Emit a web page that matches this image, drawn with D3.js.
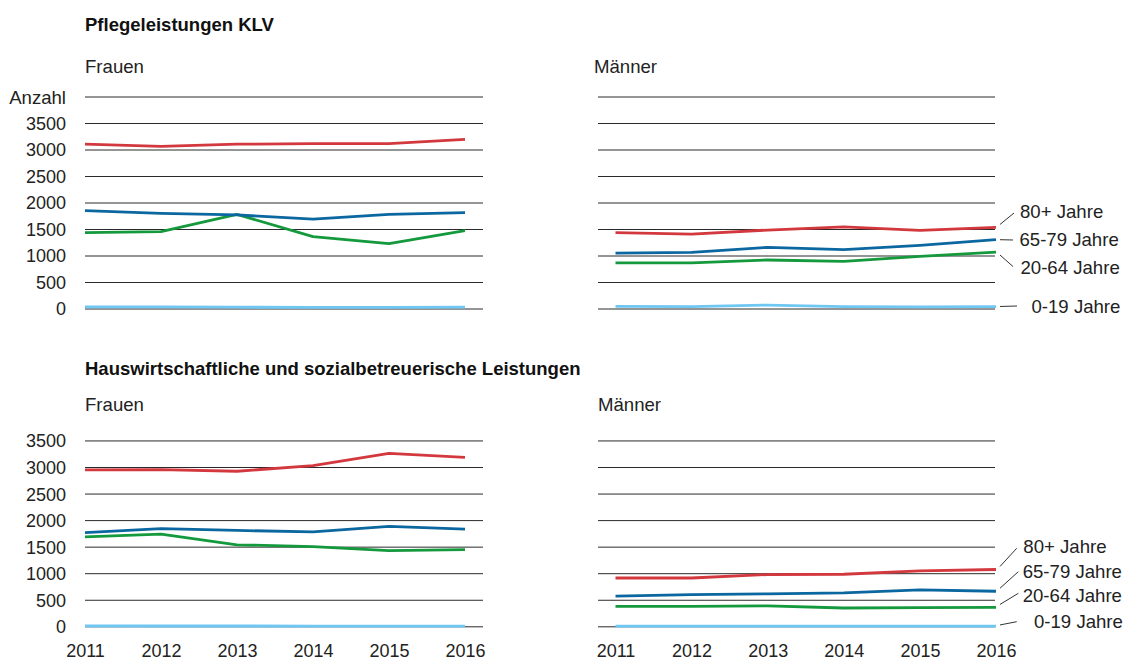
<!DOCTYPE html>
<html>
<head>
<meta charset="utf-8">
<script src="https://cdn.jsdelivr.net/npm/d3@7"></script>
<style>
  html, body { margin: 0; padding: 0; background: #fff; }
  svg { display: block; font-family: "Liberation Sans", Arial, Helvetica, sans-serif; }
  text { fill: #222; }
</style>
</head>
<body>
<svg id="chart" width="1125" height="662"></svg>
<script>
// ---------- data ----------
const years = [2011, 2012, 2013, 2014, 2015, 2016];
const seriesNames = ["80+ Jahre", "65-79 Jahre", "20-64 Jahre", "0-19 Jahre"];
const seriesColors = ["#d3383e", "#0b67a0", "#14993d", "#6fc7f3"];
const yTicksTop = [0, 500, 1000, 1500, 2000, 2500, 3000, 3500, 4000];
const yTicksBottom = [0, 500, 1000, 1500, 2000, 2500, 3000, 3500];
const yAxisTitle = "Anzahl";
const section1Title = "Pflegeleistungen KLV";
const section2Title = "Hauswirtschaftliche und sozialbetreuerische Leistungen";
const panelWomen = "Frauen";
const panelMen = "Männer";

// Pflegeleistungen KLV - Frauen
const pflegeFrauen80 = [3100, 3060, 3100, 3110, 3110, 3190];
const pflegeFrauen65 = [1845, 1795, 1765, 1685, 1775, 1810];
const pflegeFrauen20 = [1430, 1450, 1775, 1355, 1225, 1470];
const pflegeFrauen0  = [30, 30, 25, 20, 20, 25];
// Pflegeleistungen KLV - Männer
const pflegeMaenner80 = [1430, 1405, 1480, 1540, 1475, 1530];
const pflegeMaenner65 = [1045, 1060, 1155, 1110, 1190, 1300];
const pflegeMaenner20 = [860, 860, 915, 890, 985, 1065];
const pflegeMaenner0  = [40, 35, 65, 35, 30, 35];
// Hauswirtschaftliche und sozialbetreuerische Leistungen - Frauen
const hausFrauen80 = [2945, 2950, 2920, 3025, 3255, 3180];
const hausFrauen65 = [1765, 1840, 1805, 1780, 1880, 1830];
const hausFrauen20 = [1685, 1735, 1535, 1500, 1425, 1445];
const hausFrauen0  = [8, 6, 6, 5, 5, 5];
// Hauswirtschaftliche und sozialbetreuerische Leistungen - Männer
const hausMaenner80 = [910, 910, 975, 980, 1045, 1070];
const hausMaenner65 = [570, 595, 610, 630, 685, 660];
const hausMaenner20 = [375, 375, 385, 345, 350, 355];
const hausMaenner0  = [5, 5, 5, 5, 5, 5];

// ---------- layout ----------
const svg = d3.select("#chart");
const FS = 18;
const FS_TEXT = 18.6;

const panels = [
  { series: [pflegeFrauen80, pflegeFrauen65, pflegeFrauen20, pflegeFrauen0],
    title: panelWomen, titleX: 85, titleY: 73,
    xRange: [85, 465], grid: [85, 483], yRange: [308.5, 96.5], ticks: yTicksTop,
    yLabels: true, xLabels: false, legend: null },
  { series: [pflegeMaenner80, pflegeMaenner65, pflegeMaenner20, pflegeMaenner0],
    title: panelMen, titleX: 594, titleY: 73,
    xRange: [615.5, 996], grid: [598, 995], yRange: [308.5, 96.5], ticks: yTicksTop,
    yLabels: false, xLabels: false,
    legend: [ {x: 1020, y: 211, lx: 1014, ly: 213},
              {x: 1019.5, y: 239.5, lx: 1013, ly: 240},
              {x: 1020.5, y: 267.5, lx: 1013, ly: 266.5},
              {x: 1031.5, y: 306, lx: 1017, ly: 306} ] },
  { series: [hausFrauen80, hausFrauen65, hausFrauen20, hausFrauen0],
    title: panelWomen, titleX: 85, titleY: 411,
    xRange: [85, 465], grid: [85, 483], yRange: [626.3, 413.9], ticks: yTicksBottom,
    yLabels: true, xLabels: true, legend: null },
  { series: [hausMaenner80, hausMaenner65, hausMaenner20, hausMaenner0],
    title: panelMen, titleX: 598, titleY: 411,
    xRange: [615.5, 996], grid: [598, 995], yRange: [626.3, 413.9], ticks: yTicksBottom,
    yLabels: false, xLabels: true,
    legend: [ {x: 1023.3, y: 546.7, lx: 1016.7, ly: 548.3},
              {x: 1022.7, y: 571.7, lx: 1018.3, ly: 571.7},
              {x: 1022.7, y: 595, lx: 1018.3, ly: 593.3},
              {x: 1034, y: 621.7, lx: 1016.7, ly: 621.7} ] }
];

// section titles
svg.append("text").attr("x", 85).attr("y", 31)
  .attr("font-size", 18.5).attr("font-weight", "bold").style("fill", "#111")
  .text(section1Title);
svg.append("text").attr("x", 85).attr("y", 375)
  .attr("font-size", 18.5).attr("font-weight", "bold").style("fill", "#111")
  .text(section2Title);

panels.forEach(p => {
  const x = d3.scaleLinear().domain([years[0], years[years.length - 1]]).range(p.xRange);
  const y = d3.scaleLinear().domain([0, 4000]).range(p.yRange);
  const g = svg.append("g");

  // panel title
  g.append("text").attr("x", p.titleX).attr("y", p.titleY)
    .attr("font-size", FS_TEXT).text(p.title);

  // gridlines
  const gridAxis = d3.axisRight(y).tickValues(p.ticks)
    .tickSize(p.grid[1] - p.grid[0]).tickFormat("");
  const gg = g.append("g").attr("transform", `translate(${p.grid[0]},0)`).call(gridAxis);
  gg.select(".domain").remove();
  gg.selectAll(".tick line").attr("stroke", "#2a2a2a").attr("stroke-width", 1);

  // y labels
  if (p.yLabels) {
    const ya = d3.axisLeft(y).tickValues(p.ticks).tickSize(0).tickPadding(19)
      .tickFormat(d => d === 4000 ? yAxisTitle : d);
    const yg = g.append("g").attr("transform", `translate(${p.grid[0]},0)`).call(ya);
    yg.select(".domain").remove();
    yg.selectAll("text").attr("font-size", d => d === 4000 ? FS_TEXT : FS)
      .attr("font-family", "'Liberation Sans', Arial, sans-serif")
      .style("fill", "#222").attr("dy", "0.36em");
  }

  // x labels
  if (p.xLabels) {
    const xa = d3.axisBottom(x).tickValues(years).tickSize(0).tickPadding(18)
      .tickFormat(d3.format("d"));
    const xg = g.append("g").attr("transform", `translate(0,${p.yRange[0]})`).call(xa);
    xg.select(".domain").remove();
    xg.selectAll("text").attr("font-size", FS)
      .attr("font-family", "'Liberation Sans', Arial, sans-serif")
      .style("fill", "#222");
  }

  // lines (draw light blue first so others on top)
  const line = d3.line().x((d, i) => x(years[i])).y(d => y(d));
  const order = [3, 2, 1, 0];
  order.forEach(si => {
    g.append("path").datum(p.series[si])
      .attr("fill", "none")
      .attr("stroke", seriesColors[si])
      .attr("stroke-width", 2.8)
      .attr("stroke-linejoin", "round")
      .attr("d", line);
  });

  // legend
  if (p.legend) {
    p.legend.forEach((L, si) => {
      const vals = p.series[si];
      const endY = y(vals[vals.length - 1]);
      const sx = x(years[years.length - 1]) + 4;
      const sy = endY + Math.max(-3, Math.min(3, (L.ly - endY) * 0.25));
      g.append("line").attr("x1", sx).attr("y1", sy).attr("x2", L.lx).attr("y2", L.ly)
        .attr("stroke", "#333").attr("stroke-width", 1);
      g.append("text").attr("x", L.x).attr("y", L.y).attr("dy", "0.36em")
        .attr("font-size", FS_TEXT).text(seriesNames[si]);
    });
  }
});
</script>
</body>
</html>
